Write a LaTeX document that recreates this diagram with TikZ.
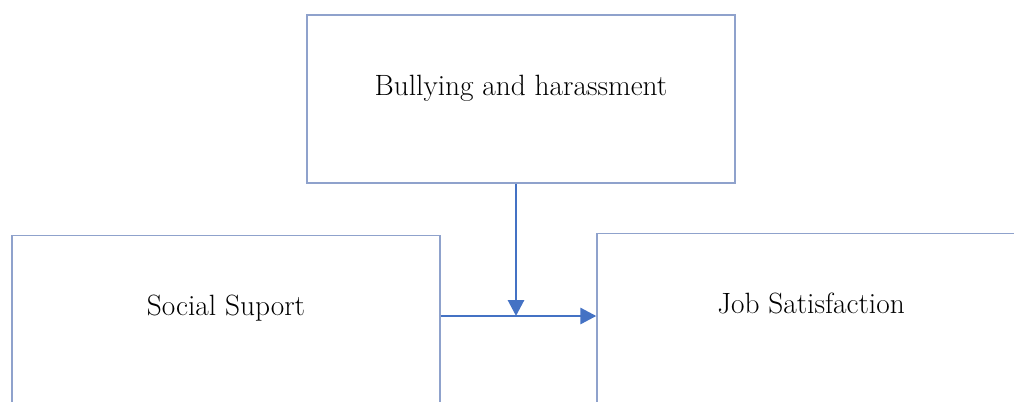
\documentclass[tikz,border=0pt]{standalone}
\usetikzlibrary{arrows.meta,positioning}
\definecolor{boxline}{HTML}{8FA2CC}
\definecolor{arrowblue}{HTML}{4472C4}

\begin{document}
\begin{tikzpicture}[x = 0.75pt, y = -0.75pt]
        \useasboundingbox (0,0) rectangle (1014,401);
        \tikzset{BoxStyle/.style = {draw,
            draw           = boxline,
            line width     = 1pt,
            minimum width  = 321pt,
            minimum height = 126pt,
            text height    = 15pt,
            text depth     = 21pt,
            font           = \fontsize{22}{26}\selectfont}}
        \tikzset{LowBoxStyle/.style = {BoxStyle, anchor = north,
            minimum height = 135pt,
            text depth     = 30pt}}
        \tikzset{ArrowStyle/.style = {draw = arrowblue, line width = 2.2pt,
            -{Triangle[length=12pt, width=12pt]}}}
        \node[BoxStyle] (Bully) at (521,99) {Bullying and harassment};
        \node[LowBoxStyle] (Support) at (226,235) {Social Suport};
        \node[LowBoxStyle] (Job) at (811,233) {Job Satisfaction};
        \coordinate (Meet) at (516,316);
        \draw[ArrowStyle] (Bully.south -| Meet) -- (Meet);
        \draw[ArrowStyle] (Support.east |- Meet) -- (Meet -| Job.west);
      \end{tikzpicture}
\end{document}
